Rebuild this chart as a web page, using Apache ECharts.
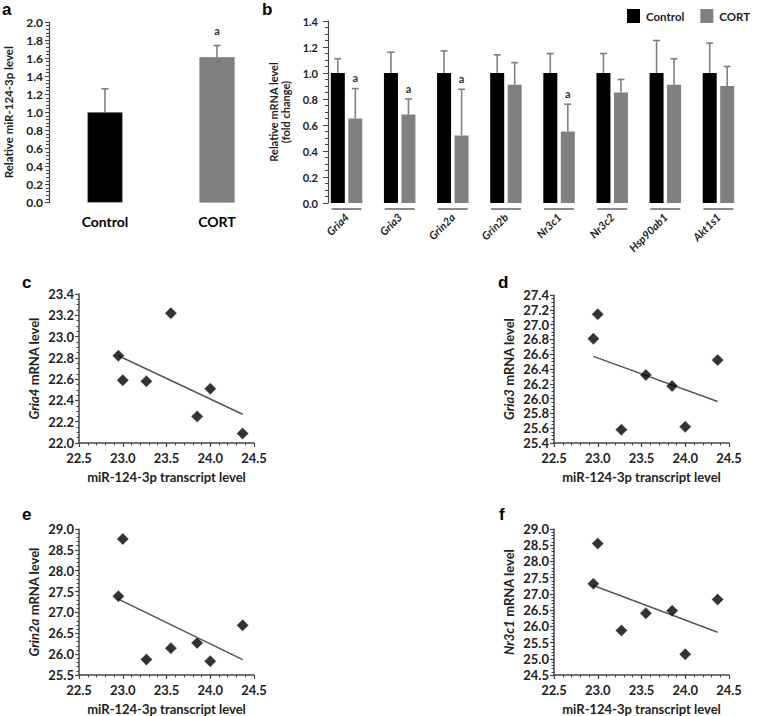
<!DOCTYPE html>
<html>
<head>
<meta charset="utf-8">
<script src="https://cdn.jsdelivr.net/npm/echarts@6/dist/echarts.min.js"></script>
<style>html,body{margin:0;padding:0;background:#fff}#c{width:758px;height:716px}</style>
</head>
<body>
<div id="c"></div>
<script>
// ---- Panel a data ----
const aCategories = ['Control', 'CORT'];
const aValues = [1.0, 1.61];
const aErr = [0.26, 0.13];
const aSig = ['', 'a'];

// ---- Panel b data ----
const bGenes = ['Gria4', 'Gria3', 'Grin2a', 'Grin2b', 'Nr3c1', 'Nr3c2', 'Hsp90ab1', 'Akt1s1'];
const bControl = [1, 1, 1, 1, 1, 1, 1, 1];
const bControlErr = [0.11, 0.16, 0.17, 0.14, 0.15, 0.15, 0.25, 0.23];
const bCort = [0.65, 0.68, 0.52, 0.91, 0.55, 0.85, 0.91, 0.90];
const bCortErr = [0.23, 0.12, 0.355, 0.17, 0.21, 0.10, 0.20, 0.15];
const bSig = ['a', 'a', 'a', '', 'a', '', '', ''];

// ---- Scatter panels c-f ----
const mirX = [22.95, 23.0, 23.27, 23.55, 23.85, 24.0, 24.37];
const gria4Y = [22.82, 22.59, 22.58, 23.22, 22.25, 22.51, 22.09];
const gria3Y = [26.81, 27.14, 25.58, 26.32, 26.17, 25.62, 26.52];
const grin2aY = [27.39, 28.76, 25.87, 26.14, 26.27, 25.83, 26.69];
const nr3c1Y = [27.31, 28.55, 25.87, 26.40, 26.48, 25.14, 26.83];
// trend line end points
const trendX = [22.95, 24.37];
const gria4Trend = [22.82, 22.27];
const gria3Trend = [26.57, 25.96];
const grin2aTrend = [27.32, 25.87];
const nr3c1Trend = [27.26, 25.82];

const FONT = 'Lato';
const TXT = '#222';
const AXC = '#444';

function errSeries(xi, yi, vals, errs, sig, off, sigGap) {
  return {
    type: 'custom', xAxisIndex: xi, yAxisIndex: yi, z: 5,
    data: vals.map((v, i) => [i, v, errs[i]]),
    renderItem: function (params, api) {
      const i = api.value(0), v = api.value(1), e = api.value(2);
      const p = api.coord([i, v]);
      const t = api.coord([i, v + e]);
      const x = p[0] + off;
      const children = [
        {type: 'line', shape: {x1: x, y1: p[1], x2: x, y2: t[1]}, style: {stroke: '#808080', lineWidth: 1.6}},
        {type: 'line', shape: {x1: x - 3.5, y1: t[1], x2: x + 3.5, y2: t[1]}, style: {stroke: '#808080', lineWidth: 1.6}}
      ];
      const s = sig[params.dataIndex];
      if (s) {
        children.push({type: 'text', style: {text: s, x: x, y: t[1] - sigGap, align: 'center', verticalAlign: 'middle',
          textAlign: 'center', textVerticalAlign: 'middle', font: 'bold 11px ' + FONT, fill: '#333'}});
      }
      return {type: 'group', children: children};
    }
  };
}

function scatterAxes(gi, yMin, yMax, yInt, yMinor, yName) {
  const common = {
    gridIndex: gi, type: 'value',
    axisLine: {show: true, onZero: false, lineStyle: {color: AXC, width: 1.5}},
    axisTick: {show: true, length: 4, lineStyle: {color: AXC, width: 1.2}},
    minorTick: {show: true, length: 2.5, lineStyle: {color: AXC, width: 1}},
    splitLine: {show: false},
    axisLabel: {color: TXT, fontFamily: FONT, fontWeight: 'bold', fontSize: 13, formatter: v => v.toFixed(1)}
  };
  const x = Object.assign({}, common, {
    min: 22.5, max: 24.5, interval: 0.5,
    minorTick: Object.assign({}, common.minorTick, {splitNumber: 5}),
    axisLabel: Object.assign({}, common.axisLabel, {margin: 8}),
    name: 'miR-124-3p transcript level', nameLocation: 'middle', nameGap: 27,
    nameTextStyle: {color: TXT, fontFamily: FONT, fontWeight: 'bold', fontSize: 13}
  });
  const y = Object.assign({}, common, {
    min: yMin, max: yMax, interval: yInt,
    minorTick: Object.assign({}, common.minorTick, {splitNumber: yMinor}),
    axisLabel: Object.assign({}, common.axisLabel, {margin: 5}),
    name: yName, nameLocation: 'middle', nameGap: 39,
    nameTextStyle: {color: TXT, fontFamily: FONT, fontWeight: 'bold', fontSize: 13,
      rich: {i: {fontStyle: 'italic', fontWeight: 'bold', fontSize: 13, fontFamily: FONT, color: TXT}}}
  });
  return [x, y];
}

function scatterSeries(ai, ys, trend) {
  return [
    {type: 'line', xAxisIndex: ai, yAxisIndex: ai, z: 2, showSymbol: false, silent: true,
      data: trendX.map((x, i) => [x, trend[i]]), lineStyle: {color: '#555', width: 1.5}},
    {type: 'scatter', xAxisIndex: ai, yAxisIndex: ai, z: 3, symbol: 'diamond', symbolSize: [12, 12],
      data: mirX.map((x, i) => [x, ys[i]]), itemStyle: {color: '#000', borderColor: '#c8d8ee', borderWidth: 0.6}}
  ];
}

const sc = scatterAxes(2, 22.0, 23.4, 0.2, 4, '{i|Gria4} mRNA level');
const sd = scatterAxes(3, 25.4, 27.4, 0.2, 4, '{i|Gria3} mRNA level');
const se = scatterAxes(4, 25.5, 29.0, 0.5, 5, '{i|Grin2a} mRNA level');
const sf = scatterAxes(5, 24.5, 29.0, 0.5, 5, '{i|Nr3c1} mRNA level');

const option = {
  animation: false,
  backgroundColor: '#fff',
  textStyle: {fontFamily: FONT},
  grid: [
    {left: 49, top: 22, width: 224, height: 180.5},
    {left: 320, top: 21, width: 425, height: 182},
    {left: 79, top: 294, width: 175, height: 149},
    {left: 554, top: 295, width: 175, height: 148},
    {left: 79, top: 529, width: 175, height: 148.5},
    {left: 554, top: 529, width: 175, height: 148}
  ],
  legend: {
    data: ['Control', 'CORT'], orient: 'horizontal', left: 627, top: 9, padding: 0,
    itemWidth: 13, itemHeight: 14, itemGap: 16,
    icon: 'rect', textStyle: {color: TXT, fontFamily: FONT, fontWeight: 'bold', fontSize: 11.5, padding: [0, 0, 0, 1]}
  },
  xAxis: [
    {gridIndex: 0, type: 'category', data: aCategories,
      axisLine: {show: false}, axisTick: {show: false},
      axisLabel: {color: '#000', fontFamily: FONT, fontWeight: 'bold', fontSize: 14, margin: 12}},
    {gridIndex: 1, type: 'category', data: bGenes,
      axisLine: {show: false}, axisTick: {show: false},
      axisLabel: {show: true, rotate: 45, interval: 0, margin: 12, hideOverlap: false,
        color: TXT, fontFamily: FONT, fontWeight: 'bold', fontStyle: 'italic', fontSize: 11}},
    sc[0], sd[0], se[0], sf[0]
  ],
  yAxis: [
    {gridIndex: 0, type: 'value', min: 0, max: 2.0, interval: 0.2,
      axisLine: {show: true, lineStyle: {color: AXC, width: 1.2}},
      axisTick: {show: true, length: 4, lineStyle: {color: AXC}},
      minorTick: {show: true, splitNumber: 5, length: 3, lineStyle: {color: AXC}},
      splitLine: {show: false},
      axisLabel: {color: TXT, fontFamily: FONT, fontWeight: 'bold', fontSize: 12, margin: 6, formatter: v => v.toFixed(1)},
      name: 'Relative miR-124-3p level', nameLocation: 'middle', nameGap: 35,
      nameTextStyle: {color: TXT, fontFamily: FONT, fontWeight: 'bold', fontSize: 11.5}},
    {gridIndex: 1, type: 'value', min: 0, max: 1.4, interval: 0.2, offset: -8,
      axisLine: {show: true, lineStyle: {color: AXC, width: 1.2}},
      axisTick: {show: true, length: 5, lineStyle: {color: AXC}},
      minorTick: {show: true, splitNumber: 4, length: 3, lineStyle: {color: AXC}},
      splitLine: {show: false},
      axisLabel: {color: TXT, fontFamily: FONT, fontWeight: 'bold', fontSize: 11, margin: 10, formatter: v => v.toFixed(1)},
      name: 'Relative mRNA level\n(fold change)', nameLocation: 'middle', nameGap: 32,
      nameTextStyle: {color: TXT, fontFamily: FONT, fontWeight: 'bold', fontSize: 11, lineHeight: 12}},
    sc[1], sd[1], se[1], sf[1]
  ],
  graphic: [
    {type: 'text', left: 2, top: 1, style: {text: 'a', font: 'bold 17px "Liberation Sans"', fill: '#000'}},
    {type: 'text', left: 262, top: 1, style: {text: 'b', font: 'bold 17px "Liberation Sans"', fill: '#000'}},
    {type: 'text', left: 22, top: 274, style: {text: 'c', font: 'bold 17px "Liberation Sans"', fill: '#000'}},
    {type: 'text', left: 498, top: 274, style: {text: 'd', font: 'bold 17px "Liberation Sans"', fill: '#000'}},
    {type: 'text', left: 22, top: 506, style: {text: 'e', font: 'bold 17px "Liberation Sans"', fill: '#000'}},
    {type: 'text', left: 499, top: 506, style: {text: 'f', font: 'bold 17px "Liberation Sans"', fill: '#000'}}
  ],
  series: [
    {type: 'bar', name: 'panelA', xAxisIndex: 0, yAxisIndex: 0, barWidth: 35,
      data: aValues.map((v, i) => ({value: v, itemStyle: {color: i === 0 ? '#000' : '#808080', borderColor: '#666', borderWidth: 0.5}}))},
    errSeries(0, 0, aValues, aErr, aSig, 0, 15),
    {type: 'bar', name: 'Control', xAxisIndex: 1, yAxisIndex: 1, barWidth: 14, barGap: '25%',
      itemStyle: {color: '#000'}, data: bControl},
    {type: 'bar', name: 'CORT', xAxisIndex: 1, yAxisIndex: 1, barWidth: 14, barGap: '25%',
      itemStyle: {color: '#808080'}, data: bCort},
    errSeries(1, 1, bControl, bControlErr, bControl.map(() => ''), -8.75, 11),
    errSeries(1, 1, bCort, bCortErr, bSig, 8.75, 11),
    {type: 'custom', xAxisIndex: 1, yAxisIndex: 1, silent: true, clip: false,
      data: bGenes.map((g, i) => [i, 0]),
      renderItem: function (params, api) {
        const p = api.coord([api.value(0), 0]);
        return {type: 'line', shape: {x1: p[0] - 15, y1: p[1] + 6, x2: p[0] + 15, y2: p[1] + 6},
          style: {stroke: '#8c8c8c', lineWidth: 2}};
      }},
    ...scatterSeries(2, gria4Y, gria4Trend),
    ...scatterSeries(3, gria3Y, gria3Trend),
    ...scatterSeries(4, grin2aY, grin2aTrend),
    ...scatterSeries(5, nr3c1Y, nr3c1Trend)
  ]
};

const chart = echarts.init(document.getElementById('c'), null, {renderer: 'svg'});
chart.setOption(option);
</script>
</body>
</html>
